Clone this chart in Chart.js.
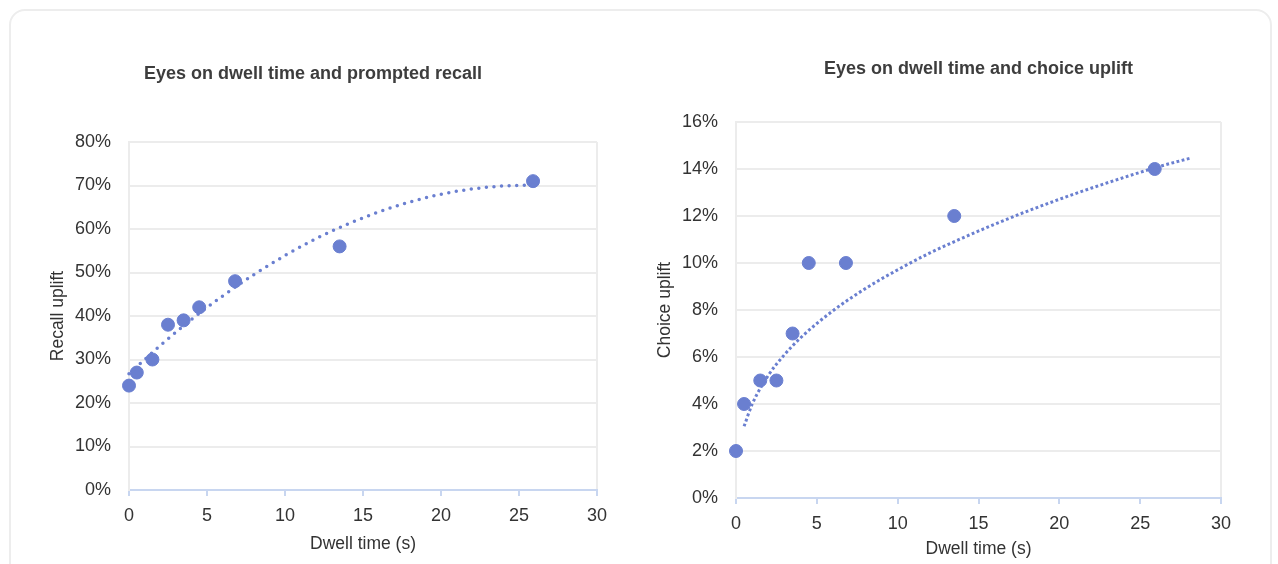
<!DOCTYPE html>
<html>
<head>
<meta charset="utf-8">
<script src="https://cdn.jsdelivr.net/npm/chart.js@4.4.1/dist/chart.umd.min.js"></script>
<style>
  html, body { margin: 0; padding: 0; background: #ffffff; width: 1278px; height: 564px; overflow: hidden; }
  .card { position: absolute; left: 9px; top: 9px; width: 1259px; height: 600px; border: 2px solid #ededed; border-radius: 16px; background: #fff; }
  .box { position: absolute; top: 10px; height: 554px; }
  #left { left: 10px; width: 615px; }
  #right { left: 635px; width: 620px; }
</style>
</head>
<body>
<div class="card"></div>
<div class="box" id="left"><canvas id="c1"></canvas></div>
<div class="box" id="right"><canvas id="c2"></canvas></div>
<script>
// ---- data ----
const dwellTimes = [0, 0.5, 1.5, 2.5, 3.5, 4.5, 6.8, 13.5, 25.9];
const recallUplift = [24, 27, 30, 38, 39, 42, 48, 56, 71];
const choiceUplift = [2, 4, 5, 5, 7, 10, 10, 12, 14];

// trendlines
const recallTrendX = [0, 2, 4, 6, 8, 10, 12, 14, 16, 18, 20, 22, 24, 25.9];
const recallTrendY = [26.7, 33.2, 39.2, 44.6, 49.5, 53.9, 57.8, 61.1, 63.9, 66.2, 68.0, 69.2, 69.9, 70.1];
const choiceTrendX = [0.5, 1, 2, 3, 4, 6, 8, 10, 12, 14, 16, 18, 20, 22, 24, 26, 28.2];
const choiceTrendY = [3.05, 3.99, 5.22, 6.10, 6.82, 7.97, 8.91, 9.71, 10.43, 11.06, 11.65, 12.20, 12.71, 13.19, 13.64, 14.07, 14.48];

const xTicks = [0, 5, 10, 15, 20, 25, 30];
const recallTicks = [0, 10, 20, 30, 40, 50, 60, 70, 80];
const choiceTicks = [0, 2, 4, 6, 8, 10, 12, 14, 16];

const titles = ['Eyes on dwell time and prompted recall', 'Eyes on dwell time and choice uplift'];
const yTitles = ['Recall uplift', 'Choice uplift'];
const xTitle = 'Dwell time (s)';

// ---- styling ----
const BLUE = '#6a7fd0';
const GRID = '#ececec';
const AXIS = '#c8d6f0';
const FONT = "'Liberation Sans', Arial, Helvetica, sans-serif";
Chart.defaults.font.family = FONT;
Chart.defaults.color = '#333';

const pairs = (xs, ys) => xs.map((x, i) => ({ x: x, y: ys[i] }));

function makeChart(id, cfg) {
  return new Chart(document.getElementById(id), {
    type: 'scatter',
    data: {
      datasets: [
        {
          type: 'line',
          data: pairs(cfg.trendX, cfg.trendY),
          borderColor: BLUE,
          borderWidth: cfg.trendWidth,
          borderDash: cfg.dash,
          borderCapStyle: cfg.cap,
          pointRadius: 0,
          fill: false,
          tension: 0.4,
          cubicInterpolationMode: 'monotone',
          clip: false,
          order: 0
        },
        {
          data: pairs(dwellTimes, cfg.values),
          backgroundColor: BLUE,
          borderColor: BLUE,
          pointRadius: 6.5,
          pointHoverRadius: 6.5,
          clip: false,
          order: 1
        }
      ]
    },
    options: {
      responsive: true,
      maintainAspectRatio: false,
      animation: false,
      layout: { padding: cfg.layoutPad },
      plugins: {
        legend: { display: false },
        tooltip: { enabled: false },
        title: {
          display: true,
          text: cfg.title,
          fullSize: cfg.fullSize,
          color: '#3d3d3d',
          font: { size: 18, weight: 'bold', family: FONT },
          padding: cfg.titlePad
        }
      },
      scales: {
        x: {
          type: 'linear',
          min: 0, max: 30,
          afterBuildTicks: s => { s.ticks = xTicks.map(v => ({ value: v })); },
          afterFit: s => { s.height = cfg.xHeight; },
          ticks: { font: { size: 18 }, color: '#333', padding: 8.8, maxRotation: 0 },
          grid: {
            color: c => (c.tick && c.tick.value === 30) ? GRID : 'rgba(0,0,0,0)',
            lineWidth: 2,
            tickColor: AXIS,
            tickLength: 6,
            drawTicks: true
          },
          border: { display: true, color: AXIS, width: 2 },
          title: { display: true, text: xTitle, color: '#333', font: { size: 17.5 }, padding: { top: 0, bottom: cfg.xTitlePadBottom } }
        },
        y: {
          type: 'linear',
          min: 0, max: cfg.yMax,
          afterBuildTicks: s => { s.ticks = cfg.yTicks.map(v => ({ value: v })); },
          afterFit: s => { s.width = cfg.yWidth; },
          ticks: { font: { size: 18 }, color: '#333', padding: 18, callback: v => v + '%' },
          grid: { color: GRID, lineWidth: 2, drawTicks: false },
          border: { display: true, color: GRID, width: 2 },
          title: { display: true, text: cfg.yTitle, color: '#333', font: { size: 17.5 }, padding: { top: cfg.yTitlePadTop, bottom: 0 } }
        }
      }
    }
  });
}

makeChart('c1', {
  title: titles[0], yTitle: yTitles[0],
  values: recallUplift, trendX: recallTrendX, trendY: recallTrendY,
  dash: [0, 7.6], cap: 'round', trendWidth: 3.5,
  yMax: 80, yTicks: recallTicks,
  layoutPad: { left: 19, right: 28, top: 0, bottom: 0 },
  fullSize: true,
  titlePad: { top: 53.2, bottom: 57.2 },
  yWidth: 100, yTitlePadTop: 18.4,
  xHeight: 74, xTitlePadBottom: 9.4
});

makeChart('c2', {
  title: titles[1], yTitle: yTitles[1],
  values: choiceUplift, trendX: choiceTrendX, trendY: choiceTrendY,
  dash: [2.8, 2.5], cap: 'butt', trendWidth: 3,
  yMax: 16, yTicks: choiceTicks,
  layoutPad: { left: 0, right: 34, top: 0, bottom: 0 },
  fullSize: false,
  titlePad: { top: 48.2, bottom: 42.2 },
  yWidth: 101, yTitlePadTop: 19.4,
  xHeight: 66, xTitlePadBottom: 4.4
});
</script>
</body>
</html>
